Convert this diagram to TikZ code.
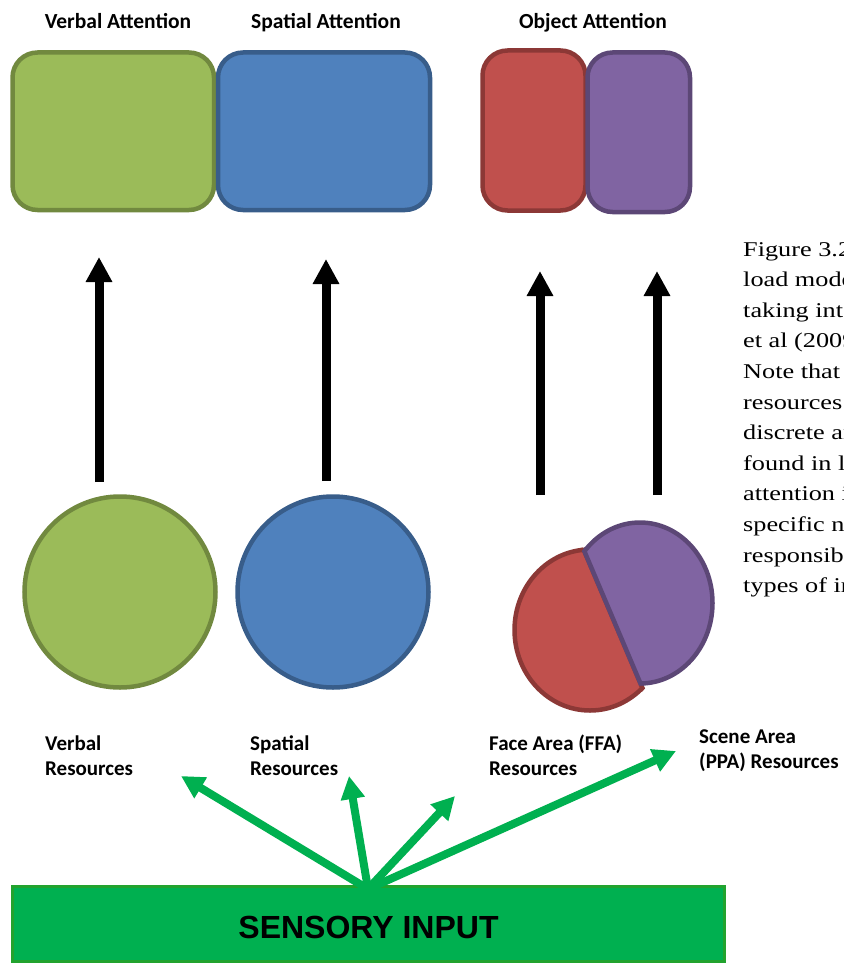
\documentclass[tikz,border=0pt]{standalone}
\usepackage{fontspec}
\setmainfont{Liberation Serif}
\newfontfamily\calibri{Carlito}
\newfontfamily\arialf{Liberation Sans}
\newfontfamily\timesf{Liberation Serif}
\usetikzlibrary{arrows.meta,calc}

\definecolor{vfill}{HTML}{9BBB59}
\definecolor{vline}{HTML}{71893F}
\definecolor{bfill}{HTML}{4F81BD}
\definecolor{bline}{HTML}{385D8A}
\definecolor{rfill}{HTML}{C0504D}
\definecolor{rline}{HTML}{8C3836}
\definecolor{pfill}{HTML}{8064A2}
\definecolor{pline}{HTML}{5C4776}
\definecolor{sgreen}{HTML}{00B050}
\definecolor{sborder}{HTML}{22A32E}

\begin{document}
\begin{tikzpicture}[x=1pt,y=-1pt,
  attbox/.style={rectangle, rounded corners=25pt, line width=4.5pt, inner sep=0pt, outer sep=0pt},
  rescircle/.style={circle, minimum size=191pt, inner sep=0pt, outer sep=0pt, line width=4.5pt},
  upflow/.style={line width=9pt, -{Triangle[width=25pt,length=25pt]}},
  inflow/.style={draw=sgreen, line width=8pt, -{Triangle[width=23pt,length=23pt]}},
  head/.style={font=\calibri\bfseries\fontsize{21.5}{26}\selectfont, inner sep=0pt, anchor=base},
  reslabel/.style={font=\calibri\bfseries\fontsize{21}{25.6}\selectfont, inner sep=0pt, anchor=base west},
  half/.style={line width=4.5pt},
]
\useasboundingbox (0,0) rectangle (843,963);
\begin{scope}
\clip (0,0) rectangle (843,963);

% attention headings
\node[head] (hverb) at (118,29) {Verbal Attention};
\node[head] (hspat) at (326,29) {Spatial Attention};
\node[head] (hobj)  at (593,29) {Object Attention};

% attention boxes
\node[attbox, draw=vline, fill=vfill, minimum width=201.5pt, minimum height=157.5pt] (vatt) at (113.25,131.25) {};
\node[attbox, draw=bline, fill=bfill, minimum width=212pt, minimum height=157.5pt] (satt) at (324,131.25) {};
\node[attbox, draw=rline, fill=rfill, minimum width=103pt, minimum height=160pt] (fatt) at (534,130.5) {};
\node[attbox, draw=pline, fill=pfill, minimum width=102.5pt, minimum height=159.5pt] (patt) at (638.75,132.25) {};

% resource circles
\node[rescircle, draw=vline, fill=vfill] (vres) at (120,592) {};
\node[rescircle, draw=bline, fill=bfill] (sres) at (333,592) {};

% object resources: a disc split along a slanted chord
\coordinate (fres) at (590,630);
\coordinate (pres) at (640,603);
\coordinate (cutA) at (583,548);
\coordinate (cutB) at (642,687);
% face part (left of the cut)
\begin{scope}
  \clip ($(cutA)!-3!(cutB)$) -- ($(cutB)!-3!(cutA)$) -- (300,1000) -- (300,300) -- cycle;
  \draw[half, draw=rline, fill=rfill] (fres) ellipse[x radius=75.5, y radius=80.5];
\end{scope}
\begin{scope}
  \clip (fres) ellipse[x radius=77.75, y radius=82.75];
  \draw[half, draw=rline] ($(cutA)!-0.3!(cutB)$) -- ($(cutB)!-0.3!(cutA)$);
\end{scope}
% scene part (right of the cut)
\begin{scope}
  \clip ($(cutA)!-3!(cutB)$) -- ($(cutB)!-3!(cutA)$) -- (1000,1000) -- (1000,300) -- cycle;
  \draw[half, draw=pline, fill=pfill] (pres) ellipse[x radius=72.5, y radius=80.5];
\end{scope}
\begin{scope}
  \clip (pres) ellipse[x radius=74.75, y radius=82.75];
  \draw[half, draw=pline] ($(cutA)!-0.3!(cutB)$) -- ($(cutB)!-0.3!(cutA)$);
\end{scope}

% upward arrows from resources to attention
\coordinate (u1s) at (99,482);  \coordinate (u1e) at (99,257);
\coordinate (u2s) at (326,481); \coordinate (u2e) at (326,259);
\coordinate (u3s) at (540,495); \coordinate (u3e) at (540,271);
\coordinate (u4s) at (657,495); \coordinate (u4e) at (657,271);
\draw[upflow] (u1s) -- (u1e);
\draw[upflow] (u2s) -- (u2e);
\draw[upflow] (u3s) -- (u3e);
\draw[upflow] (u4s) -- (u4e);

% resource labels
\node[reslabel] (lverb) at (45,750) {\begin{tabular}[t]{@{}l@{}}Verbal\\Resources\end{tabular}};
\node[reslabel] (lspat) at (250,750) {\begin{tabular}[t]{@{}l@{}}Spatial\\Resources\end{tabular}};
\node[reslabel] (lface) at (489,750) {\begin{tabular}[t]{@{}l@{}}Face Area (FFA)\\Resources\end{tabular}};
\node[reslabel] (lscene) at (699,743) {\begin{tabular}[t]{@{}l@{}}Scene Area\\(PPA) Resources\end{tabular}};

% sensory input
\node[draw=sborder, fill=sgreen, line width=3pt, minimum width=712pt, minimum height=75pt,
      inner sep=0pt, text height=29pt, text depth=0pt,
      font=\arialf\bfseries\fontsize{32}{36}\selectfont] (sens) at (368.5,923.5) {SENSORY INPUT};
\coordinate (src) at (368,889);
\coordinate (tv) at (181,776);
\coordinate (ts) at (349,776);
\coordinate (tf) at (455,796);
\coordinate (tp) at (676,751);
\draw[inflow] (src) -- (tv);
\draw[inflow] (src) -- (ts);
\draw[inflow] (src) -- (tf);
\draw[inflow] (src) -- (tp);

% caption
\node[anchor=base west, inner sep=0pt, font=\timesf\fontsize{21}{30.6}\selectfont] (cap) at (743,256)
  {\scalebox{1.25}[1]{\begin{tabular}[t]{@{}l@{}}
  Figure 3.2: The\\
  load model\\
  taking into\\
  et al (2009).\\
  Note that the\\
  resources are\\
  discrete and\\
  found in lat\\
  attention is\\
  specific neural\\
  responsible\\
  types of information
  \end{tabular}}};
\end{scope}
\end{tikzpicture}
\end{document}
